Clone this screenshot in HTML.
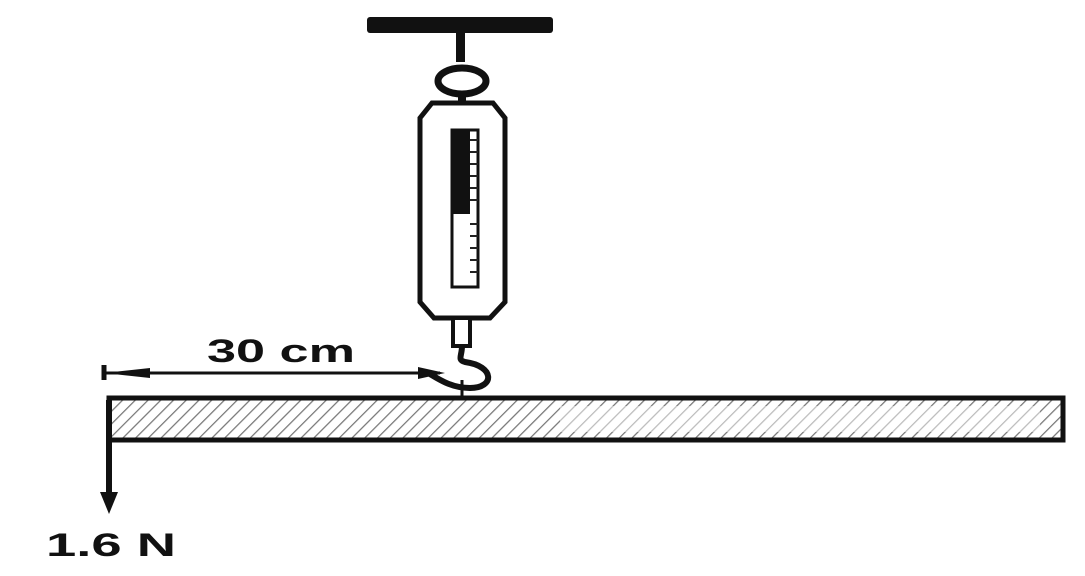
<!DOCTYPE html>
<html><head><meta charset="utf-8"><style>
html,body{margin:0;padding:0;background:#fff;width:1085px;height:576px;overflow:hidden}
svg text{font-family:"Liberation Sans",sans-serif;font-weight:bold;fill:#111}
</style></head><body>
<svg width="1085" height="576" viewBox="0 0 1085 576">
<defs>
<pattern id="hatch" width="9" height="9" patternUnits="userSpaceOnUse" patternTransform="rotate(45)">
<line x1="0" y1="0" x2="0" y2="9" stroke="#777" stroke-width="2.5"/>
</pattern>
</defs>
<g>
<rect x="367" y="17" width="186" height="16" rx="3" fill="#111"/>
<rect x="456" y="32" width="9" height="30" fill="#111"/>
<ellipse cx="462" cy="81" rx="24" ry="13" fill="none" stroke="#111" stroke-width="7"/>
<rect x="458" y="93" width="8" height="12" fill="#111"/>
<path d="M432 103 L493 103 L505 118 L505 302 L490 318 L434 318 L420 302 L420 118 Z" fill="#fff" stroke="#111" stroke-width="5"/>
<rect x="452" y="130" width="26" height="157" fill="#fff" stroke="#111" stroke-width="3"/>
<rect x="452" y="130" width="18" height="84" fill="#111"/>
<g stroke="#222" stroke-width="2">
<line x1="470" y1="140" x2="478" y2="140"/><line x1="470" y1="152" x2="478" y2="152"/><line x1="470" y1="164" x2="478" y2="164"/>
<line x1="470" y1="176" x2="478" y2="176"/><line x1="470" y1="188" x2="478" y2="188"/><line x1="470" y1="200" x2="478" y2="200"/>
<line x1="470" y1="224" x2="478" y2="224"/><line x1="470" y1="236" x2="478" y2="236"/><line x1="470" y1="248" x2="478" y2="248"/>
<line x1="470" y1="260" x2="478" y2="260"/><line x1="470" y1="272" x2="478" y2="272"/>
</g>
<rect x="453" y="318" width="17" height="28" fill="#fff" stroke="#111" stroke-width="4"/>
<path d="M462 346 C462 356 457 360 465 362 C495 366 495 388 470 388 C452 388 440 380 430 374" fill="none" stroke="#111" stroke-width="6"/>
<line x1="462" y1="380" x2="462" y2="398" stroke="#111" stroke-width="3"/>
</g>
<g>
<line x1="104" y1="365" x2="104" y2="380" stroke="#111" stroke-width="5"/>
<line x1="104" y1="373" x2="440" y2="373" stroke="#111" stroke-width="3"/>
<path d="M104 373 L150 368 L150 378 Z" fill="#111"/>
<path d="M445 373 L418 367 L418 379 Z" fill="#111"/>
<text x="207" y="362" font-size="32" textLength="148" lengthAdjust="spacingAndGlyphs">30 cm</text>
</g>
<g>
<rect x="109" y="398" width="954" height="42" fill="url(#hatch)" stroke="#111" stroke-width="5"/>
<rect x="560" y="406" width="480" height="26" fill="#fff" opacity="0.5"/>
</g>
<g>
<line x1="109" y1="400" x2="109" y2="496" stroke="#111" stroke-width="6"/>
<path d="M100 492 L118 492 L109 514 Z" fill="#111"/>
<text x="46" y="556" font-size="32" textLength="130" lengthAdjust="spacingAndGlyphs">1.6 N</text>
</g>
</svg>
</body></html>
